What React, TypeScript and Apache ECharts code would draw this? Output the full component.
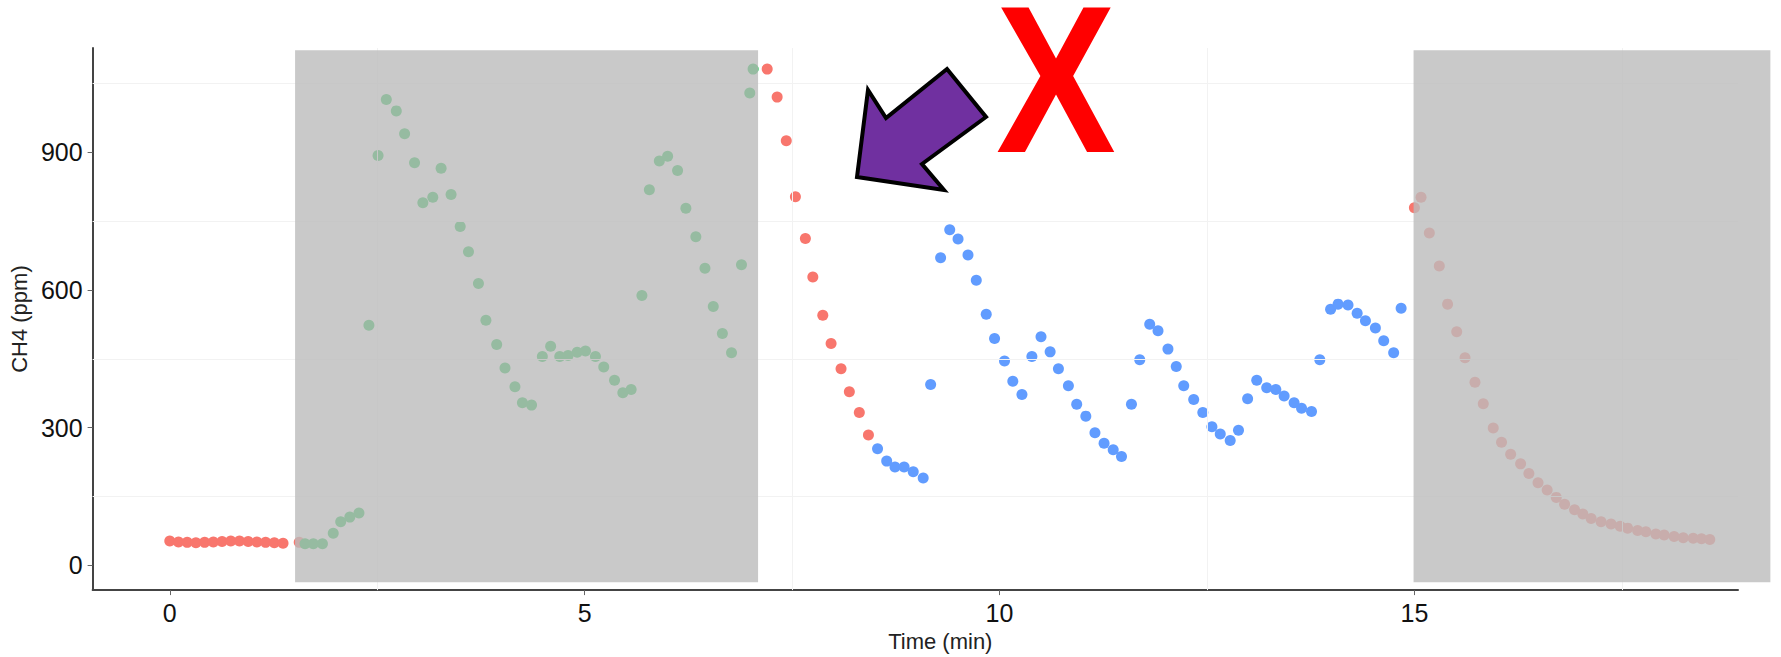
import React, { useEffect, useRef } from "react";
import * as echarts from "echarts";

// ---- data (time in minutes, CH4 in ppm) ----
const redTimes = [
  0, 0.105, 0.21, 0.315, 0.42, 0.525, 0.63, 0.735, 0.84, 0.945, 1.05, 1.155, 1.26, 1.365, 1.56,
  7.2, 7.32, 7.43, 7.54, 7.66, 7.75, 7.87, 7.97, 8.09, 8.19, 8.31, 8.42,
  15.0, 15.08, 15.18, 15.3, 15.4, 15.51, 15.61, 15.73, 15.83, 15.95, 16.05, 16.16, 16.28, 16.38,
  16.49, 16.6, 16.71, 16.81, 16.93, 17.03, 17.13, 17.25, 17.37, 17.48, 17.57, 17.69, 17.79, 17.91,
  18.01, 18.13, 18.24, 18.36, 18.46, 18.56,
];
const redValues = [
  53, 51, 50, 49, 50, 51, 52, 53, 53, 52, 51, 50, 49, 48, 50,
  1081, 1020, 925, 803, 712, 628, 545, 483, 428, 378, 333, 284,
  779, 802, 724, 652, 569, 509, 452, 399, 352, 299, 268, 242, 221, 200,
  180, 164, 148, 133, 121, 112, 102, 95, 90, 85, 81, 76, 73, 68,
  66, 63, 60, 59, 58, 56,
];

const greenTimes = [
  1.63, 1.73, 1.84, 1.97, 2.06, 2.17, 2.28, 2.4, 2.51, 2.61, 2.73, 2.83, 2.95, 3.05, 3.17, 3.27,
  3.39, 3.5, 3.6, 3.72, 3.81, 3.94, 4.04, 4.16, 4.25, 4.36, 4.49, 4.59, 4.7, 4.8, 4.91, 5.01,
  5.13, 5.23, 5.36, 5.46, 5.56, 5.69, 5.78, 5.9, 6.0, 6.12, 6.22, 6.34, 6.45, 6.55, 6.66, 6.77,
  6.89, 6.99, 7.03,
];
const greenValues = [
  47, 47, 47, 70, 95, 105, 114, 523, 893, 1015, 990, 940, 877, 790, 802, 865,
  808, 738, 683, 614, 534, 481, 430, 389, 354, 349, 455, 477, 455, 457, 464, 467,
  455, 432, 403, 376, 383, 588, 818, 881, 891, 860, 778, 716, 647, 564, 505, 463,
  655, 1029, 1081,
];

const blueTimes = [
  8.53, 8.64, 8.74, 8.85, 8.96, 9.08, 9.17, 9.29, 9.4, 9.5, 9.62, 9.72, 9.84, 9.94, 10.06, 10.16,
  10.27, 10.39, 10.5, 10.61, 10.71, 10.83, 10.93, 11.04, 11.15, 11.26, 11.37, 11.47, 11.59, 11.69,
  11.81, 11.91, 12.03, 12.13, 12.22, 12.34, 12.45, 12.56, 12.66, 12.78, 12.88, 12.99, 13.1, 13.22,
  13.33, 13.43, 13.55, 13.64, 13.76, 13.86, 13.99, 14.08, 14.2, 14.31, 14.41, 14.53, 14.63, 14.75,
  14.84,
];
const blueValues = [
  254, 227, 214, 214, 204, 190, 394, 670, 731, 711, 676, 621, 547, 494, 445, 401,
  372, 455, 498, 465, 428, 391, 351, 325, 289, 266, 252, 237, 351, 448,
  525, 511, 471, 433, 391, 361, 333, 302, 286, 272, 294, 363, 403, 387,
  383, 369, 354, 342, 335, 448, 558, 569, 567, 549, 533, 517, 489, 463,
  560,
];

// shaded windows: [tStart, tEnd, ppmBottom, ppmTop]
const shadeWindows = [
  [1.51, 7.09, -37, 1122],
  [14.99, 19.29, -37, 1122],
];

const xTickValues = [0, 5, 10, 15];
const yTickValues = [0, 300, 600, 900];
const xMinorGrid = [2.5, 7.5, 12.5, 17.5];
const yMinorGrid = [150, 450, 750, 1050];

const seriesColors = { red: "#F8766D", green: "#00BA38", blue: "#619CFF" };

const zip = (t: number[], v: number[]) => t.map((x, i) => [x, v[i]]);

const FONT = '"Liberation Sans", Arial, sans-serif';

export default function App() {
  const ref = useRef<HTMLDivElement>(null);

  useEffect(() => {
    if (!ref.current) return;
    const chart = echarts.init(ref.current, null, { renderer: "svg" });

    const pointSeries = (name: string, data: number[][], color: string) => ({
      type: "scatter",
      name,
      data,
      symbol: "circle",
      symbolSize: 11,
      z: 2,
      silent: true,
      itemStyle: { color, opacity: 1 },
    });

    const option: any = {
      animation: false,
      backgroundColor: "#ffffff",
      grid: { left: 92, right: 43, top: 48, bottom: 62, containLabel: false },
      xAxis: {
        type: "value",
        min: -0.93,
        max: 18.9,
        name: "Time (min)",
        nameLocation: "middle",
        nameGap: 34,
        nameTextStyle: {
          fontSize: 22,
          color: "#222",
          fontFamily: FONT,
          padding: [0, 0, 0, 50],
        },
        axisLine: { show: true, onZero: false, lineStyle: { color: "#444", width: 2 } },
        axisTick: {
          show: true,
          length: 5,
          customValues: xTickValues,
          lineStyle: { color: "#666", width: 1 },
        },
        axisLabel: {
          customValues: xTickValues,
          fontSize: 25,
          color: "#111",
          fontFamily: FONT,
          margin: 10,
        },
        splitLine: { show: false },
      },
      yAxis: {
        type: "value",
        min: -54,
        max: 1127,
        name: "CH4 (ppm)",
        nameLocation: "middle",
        nameGap: 55,
        nameTextStyle: { fontSize: 22, color: "#222", fontFamily: FONT },
        axisLine: { show: true, onZero: false, lineStyle: { color: "#444", width: 2 } },
        axisTick: {
          show: true,
          length: 5,
          customValues: yTickValues,
          lineStyle: { color: "#666", width: 1 },
        },
        axisLabel: {
          customValues: yTickValues,
          fontSize: 25,
          color: "#111",
          fontFamily: FONT,
          margin: 10,
        },
        splitLine: { show: false },
      },
      series: [
        {
          type: "scatter",
          data: [],
          silent: true,
          z: 1,
          markLine: {
            silent: true,
            animation: false,
            symbol: ["none", "none"],
            label: { show: false },
            lineStyle: { color: "#F2F2F2", width: 1, type: "solid" },
            emphasis: { disabled: true },
            data: [
              ...yMinorGrid.map((v) => ({ yAxis: v })),
              ...xMinorGrid.map((v) => ({ xAxis: v })),
            ],
          },
        },
        pointSeries("red", zip(redTimes, redValues), seriesColors.red),
        pointSeries("green", zip(greenTimes, greenValues), seriesColors.green),
        pointSeries("blue", zip(blueTimes, blueValues), seriesColors.blue),
        {
          type: "custom",
          z: 5,
          silent: true,
          clip: false,
          data: shadeWindows,
          encode: { x: [0, 1], y: [2, 3] },
          renderItem: (_params: any, api: any) => {
            const p0 = api.coord([api.value(0), api.value(3)]);
            const p1 = api.coord([api.value(1), api.value(2)]);
            return {
              type: "rect",
              shape: { x: p0[0], y: p0[1], width: p1[0] - p0[0], height: p1[1] - p0[1] },
              style: { fill: "rgba(187,187,187,0.8)" },
            };
          },
        },
      ],
      graphic: [
        {
          type: "polygon",
          z: 100,
          silent: true,
          shape: {
            points: [
              [857, 177],
              [868, 90],
              [886, 118],
              [947, 69],
              [986, 117],
              [922, 164],
              [944, 190],
            ],
          },
          style: { fill: "#7030A0", stroke: "#000000", lineWidth: 4, lineJoin: "miter" },
        },
        {
          type: "text",
          z: 100,
          silent: true,
          x: 1056,
          y: 80,
          scaleX: 0.86,
          style: {
            text: "X",
            fontSize: 209,
            lineHeight: 150,
            fontWeight: "bold",
            fontFamily: FONT,
            fill: "#FF0000",
            align: "center",
            verticalAlign: "middle",
            textAlign: "center",
            textVerticalAlign: "middle",
          },
        },
      ],
    };

    chart.setOption(option);
    return () => chart.dispose();
  }, []);

  return (
    <div
      ref={ref}
      style={{ position: "fixed", left: 0, top: 0, width: 1781, height: 657, background: "#fff" }}
    />
  );
}
